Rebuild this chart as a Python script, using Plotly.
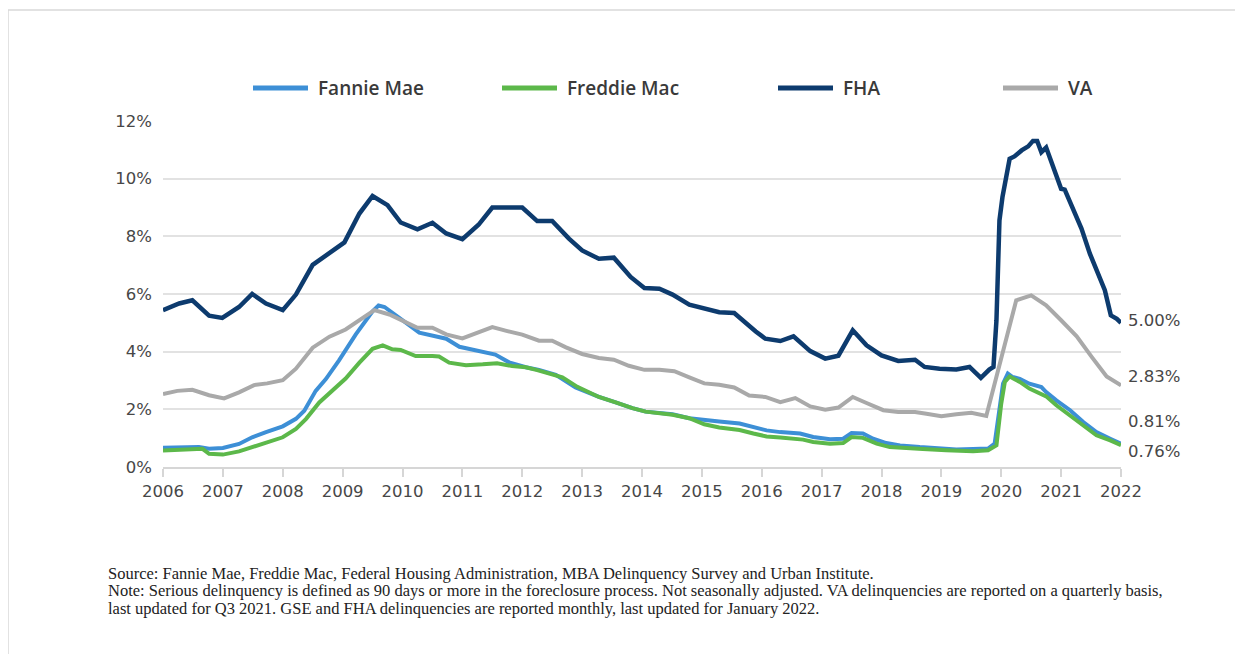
import plotly.graph_objects as go

# Taux de défaillance grave (serious delinquency), en %
series_names = ["Fannie Mae", "Freddie Mac", "FHA", "VA"]
series_colors = ["#3d8fd6", "#5cb84a", "#0d3b6e", "#a9a9a9"]

fannie_x = [2006.0, 2006.6, 2006.77, 2007.0, 2007.27, 2007.49, 2007.72, 2008.0, 2008.22, 2008.36,
            2008.55, 2008.72, 2008.94, 2009.22, 2009.5, 2009.6, 2009.7, 2009.86, 2010.06, 2010.28,
            2010.5, 2010.73, 2010.95, 2011.25, 2011.55, 2011.78, 2012.06, 2012.28, 2012.56, 2012.89,
            2013.28, 2013.56, 2013.84, 2014.06, 2014.29, 2014.51, 2014.79, 2015.04, 2015.29, 2015.63,
            2015.86, 2016.08, 2016.31, 2016.64, 2016.86, 2017.14, 2017.36, 2017.5, 2017.69, 2017.86,
            2018.08, 2018.31, 2018.64, 2018.97, 2019.25, 2019.53, 2019.78, 2019.89, 2019.94, 2020.03,
            2020.11, 2020.19, 2020.31, 2020.47, 2020.67, 2020.75, 2020.92, 2021.15, 2021.37, 2021.59,
            2021.82, 2022.0]
fannie_y = [0.67, 0.69, 0.63, 0.66, 0.80, 1.03, 1.21, 1.41, 1.67, 1.95,
            2.64, 3.05, 3.70, 4.60, 5.40, 5.60, 5.55, 5.29, 5.00, 4.66,
            4.54, 4.45, 4.17, 4.03, 3.90, 3.63, 3.46, 3.37, 3.20, 2.76,
            2.43, 2.24, 2.04, 1.92, 1.87, 1.83, 1.69, 1.62, 1.58, 1.51,
            1.39, 1.27, 1.21, 1.16, 1.04, 0.96, 0.98, 1.18, 1.16, 0.98,
            0.83, 0.75, 0.69, 0.64, 0.61, 0.62, 0.64, 0.81, 1.50, 2.89,
            3.24, 3.12, 3.06, 2.89, 2.77, 2.60, 2.31, 1.97, 1.56, 1.21,
            0.98, 0.81]

freddie_x = [2006.0, 2006.6, 2006.66, 2006.77, 2007.0, 2007.27, 2007.49, 2007.72, 2008.0, 2008.22,
             2008.39, 2008.61, 2008.83, 2009.05, 2009.28, 2009.5, 2009.67, 2009.83, 2009.97, 2010.22,
             2010.5, 2010.61, 2010.78, 2011.06, 2011.34, 2011.58, 2011.83, 2012.06, 2012.25, 2012.5,
             2012.67, 2012.92, 2013.28, 2013.56, 2013.84, 2014.06, 2014.51, 2014.79, 2015.04, 2015.29,
             2015.63, 2015.86, 2016.08, 2016.31, 2016.69, 2016.86, 2017.14, 2017.36, 2017.5, 2017.69,
             2017.92, 2018.14, 2018.42, 2018.69, 2019.08, 2019.53, 2019.78, 2019.92, 2020.0, 2020.06,
             2020.14, 2020.31, 2020.47, 2020.64, 2020.75, 2020.92, 2021.15, 2021.37, 2021.59, 2021.82,
             2022.0]
freddie_y = [0.57, 0.60, 0.63, 0.46, 0.43, 0.54, 0.69, 0.84, 1.03, 1.32,
             1.67, 2.24, 2.64, 3.07, 3.62, 4.10, 4.22, 4.08, 4.06, 3.85,
             3.85, 3.83, 3.62, 3.53, 3.56, 3.60, 3.50, 3.46, 3.36, 3.20,
             3.11, 2.78, 2.43, 2.24, 2.04, 1.92, 1.81, 1.69, 1.48, 1.37,
             1.28, 1.16, 1.06, 1.02, 0.95, 0.87, 0.81, 0.83, 1.04, 1.01,
             0.81, 0.69, 0.64, 0.62, 0.58, 0.55, 0.58, 0.75, 2.20, 2.95,
             3.14, 2.95, 2.72, 2.57, 2.45, 2.14, 1.79, 1.45, 1.10, 0.92,
             0.76]

fha_x = [2006.0, 2006.27, 2006.49, 2006.77, 2006.99, 2007.27, 2007.49, 2007.72, 2008.0, 2008.22,
         2008.5, 2008.78, 2009.03, 2009.28, 2009.5, 2009.75, 2009.97, 2010.25, 2010.5, 2010.73,
         2011.0, 2011.27, 2011.5, 2011.72, 2012.0, 2012.25, 2012.5, 2012.78, 2013.0, 2013.28,
         2013.53, 2013.81, 2014.04, 2014.29, 2014.51, 2014.79, 2015.04, 2015.29, 2015.54, 2015.74,
         2015.9, 2016.06, 2016.31, 2016.53, 2016.81, 2017.06, 2017.28, 2017.52, 2017.75, 2018.0,
         2018.28, 2018.56, 2018.72, 2018.97, 2019.25, 2019.47, 2019.66, 2019.8, 2019.87, 2019.92,
         2019.97, 2020.02, 2020.08, 2020.14, 2020.22, 2020.34, 2020.45, 2020.53, 2020.6, 2020.67,
         2020.75, 2020.87, 2021.0, 2021.06, 2021.2, 2021.34, 2021.48, 2021.62, 2021.73, 2021.83,
         2021.93, 2022.0]
fha_y = [5.44, 5.67, 5.78, 5.25, 5.17, 5.55, 6.00, 5.67, 5.44, 5.98,
         7.01, 7.44, 7.79, 8.79, 9.40, 9.08, 8.48, 8.24, 8.47, 8.10,
         7.90, 8.40, 9.00, 9.00, 9.00, 8.53, 8.53, 7.92, 7.51, 7.22,
         7.26, 6.59, 6.21, 6.18, 5.98, 5.63, 5.48, 5.37, 5.34, 4.96,
         4.70, 4.45, 4.37, 4.53, 4.02, 3.76, 3.86, 4.74, 4.22, 3.87,
         3.68, 3.72, 3.47, 3.41, 3.38, 3.47, 3.09, 3.38, 3.47, 5.09,
         8.55, 9.36, 10.06, 10.69, 10.77, 10.98, 11.12, 11.31, 11.31, 10.92,
         11.08, 10.40, 9.65, 9.62, 8.96, 8.27, 7.40, 6.71, 6.13, 5.26,
         5.14, 5.00]

va_x = [2006.0, 2006.24, 2006.49, 2006.77, 2007.02, 2007.27, 2007.52, 2007.74, 2008.0, 2008.22,
        2008.5, 2008.78, 2009.05, 2009.28, 2009.53, 2009.78, 2010.0, 2010.25, 2010.5, 2010.73,
        2011.0, 2011.26, 2011.5, 2011.72, 2012.0, 2012.28, 2012.5, 2012.73, 2013.0, 2013.28,
        2013.53, 2013.78, 2014.04, 2014.29, 2014.54, 2014.79, 2015.04, 2015.29, 2015.54, 2015.79,
        2016.06, 2016.31, 2016.56, 2016.81, 2017.06, 2017.28, 2017.52, 2017.75, 2018.03, 2018.28,
        2018.56, 2018.75, 2019.0, 2019.25, 2019.5, 2019.75, 2020.0, 2020.25, 2020.5, 2020.75,
        2021.0, 2021.26, 2021.51, 2021.76, 2022.0]
va_y = [2.53, 2.64, 2.68, 2.49, 2.38, 2.59, 2.84, 2.90, 3.01, 3.41,
        4.14, 4.52, 4.77, 5.11, 5.44, 5.29, 5.09, 4.83, 4.83, 4.60,
        4.46, 4.68, 4.85, 4.73, 4.59, 4.38, 4.38, 4.15, 3.92, 3.78,
        3.72, 3.51, 3.37, 3.37, 3.32, 3.11, 2.90, 2.85, 2.76, 2.48,
        2.43, 2.25, 2.39, 2.10, 1.99, 2.06, 2.43, 2.22, 1.97, 1.91,
        1.91, 1.85, 1.76, 1.83, 1.88, 1.77, 3.80, 5.78, 5.95, 5.61,
        5.09, 4.53, 3.82, 3.14, 2.83]

end_labels = ["0.81%", "0.76%", "5.00%", "2.83%"]
year_ticks = list(range(2006, 2023))
pct_ticks = [0, 2, 4, 6, 8, 10, 12]

source_lines = [
    "Source: Fannie Mae, Freddie Mac, Federal Housing Administration, MBA Delinquency Survey and Urban Institute.",
    "Note: Serious delinquency is defined as 90 days or more in the foreclosure process. Not seasonally adjusted. VA delinquencies are reported on a quarterly basis,",
    "last updated for Q3 2021. GSE and FHA delinquencies are reported monthly, last updated for January 2022.",
]

xs = [fannie_x, freddie_x, fha_x, va_x]
ys = [fannie_y, freddie_y, fha_y, va_y]

# La page ajoute une marge de 8 px : on travaille en pixels de la fenêtre puis on décale
OFF = 8
W, H = 1243 - 2 * OFF, 662 - 2 * OFF
L, R, T, B = 163 - OFF, 1121 - OFF, 121 - OFF, 467 - OFF


def px_x(p):
    return (p - OFF - L) / (R - L)


def px_y(p):
    return (B - (p - OFF)) / (B - T)


fig = go.Figure()
for name, color, x, y in zip(series_names, series_colors, xs, ys):
    fig.add_trace(go.Scatter(
        x=x, y=y, mode="lines", name=name,
        line=dict(color=color, width=4.5 if name == "FHA" else 4),
        showlegend=False
    ))

label_font = dict(family="DejaVu Sans", size=16.5, color="#474747")

# Étiquettes des dernières valeurs
label_shift = [22, -6, 2, 9]
for y, lab, sh in zip(ys, end_labels, label_shift):
    fig.add_annotation(x=2022, y=y[-1], text=lab, showarrow=False, xanchor="left",
                       yanchor="middle", xshift=5, yshift=sh, font=label_font)

# Légende dessinée à la main (trait long comme l'original)
legend_px = [253, 502, 778, 1003]
legend_y = px_y(88)
for name, color, p in zip(series_names, series_colors, legend_px):
    fig.add_shape(type="line", xref="paper", yref="paper",
                  x0=px_x(p), x1=px_x(p + 55), y0=legend_y, y1=legend_y,
                  line=dict(color=color, width=5))
    fig.add_annotation(xref="paper", yref="paper", x=px_x(p + 63), y=legend_y,
                       text=name, showarrow=False, xanchor="left", yanchor="middle",
                       font=dict(family="Open Sans", size=19, color="#3a3a3a", weight=600))

# Notes de bas de figure
for i, line in enumerate(source_lines):
    fig.add_annotation(xref="paper", yref="paper", x=px_x(106), y=px_y(573 + i * 17.5),
                       text=line, showarrow=False, xanchor="left", yanchor="middle",
                       font=dict(family="Liberation Serif", size=16.5, color="#222222"))

# Cadre gris clair (bords droit et bas hors de la fenêtre)
fig.add_shape(type="rect", xref="paper", yref="paper",
              x0=px_x(8), x1=px_x(1260), y0=px_y(680), y1=px_y(10),
              line=dict(color="#d9d9d9", width=1.5), layer="below")

fig.update_layout(
    width=W, height=H,
    margin=dict(l=L, r=W - R, t=T, b=H - B),
    paper_bgcolor="white", plot_bgcolor="white",
    xaxis=dict(range=[2006, 2022], tickvals=year_ticks, ticktext=[str(t) for t in year_ticks],
               showgrid=False, showline=True, linecolor="#d6d6d6", linewidth=1.5,
               ticks="outside", ticklen=8, tickcolor="#d6d6d6", tickwidth=1.5,
               tickfont=label_font, zeroline=False),
    yaxis=dict(range=[0, 12], tickvals=pct_ticks, ticktext=[f"{t}%" for t in pct_ticks],
               showgrid=True, gridcolor="#e2e2e2", gridwidth=1.5, zeroline=False,
               tickfont=label_font, ticklabelstandoff=10),
)

fig.write_html("out.html")
